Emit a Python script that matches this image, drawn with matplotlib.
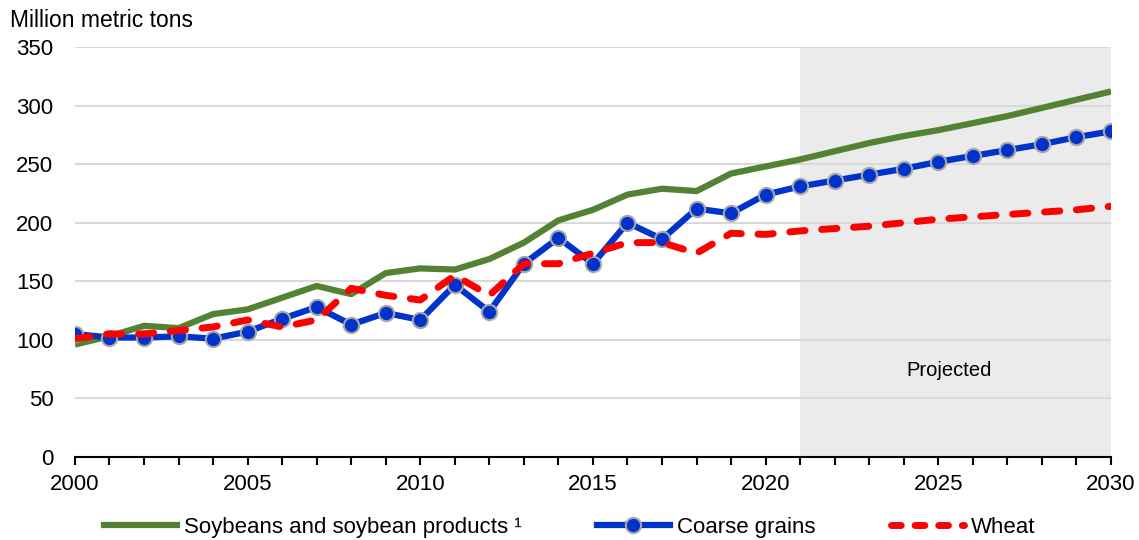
import matplotlib
matplotlib.use("Agg")
from matplotlib import pyplot as plt
from matplotlib.lines import Line2D

plt.rcParams['font.family'] = ['Liberation Sans', 'DejaVu Sans']

years = list(range(2000, 2031))

soybeans = [96, 103, 112, 110, 122, 126, 136, 146, 139, 157,
            161, 160, 169, 183, 202, 211, 224, 229, 227, 242,
            248, 254, 261, 268, 274, 279, 285, 291, 298, 305, 312]

coarse_grains = [105, 102, 102, 103, 101, 107, 118, 128, 113, 123,
                 117, 147, 124, 165, 187, 165, 200, 186, 212, 208,
                 224, 231, 236, 241, 246, 252, 257, 262, 267, 273, 278]

wheat = [101, 105, 105, 108, 111, 117, 111, 117, 144, 138,
         134, 155, 138, 165, 165, 174, 183, 183, 174, 191,
         190, 193, 195, 197, 200, 203, 205, 207, 209, 211, 214]

proj_start = 2021
proj_end = 2030

fig = plt.figure(figsize=(11.39, 5.4), dpi=100)
ax = fig.add_axes([0.0658, 0.1537, 0.9096, 0.7593])

ax.axvspan(proj_start, proj_end, color='#ebebeb', zorder=0, lw=0)
ax.text(2025.3, 74, 'Projected', fontsize=14.5, ha='center', va='center')

for yv in range(50, 351, 50):
    ax.axhline(yv, color='#d9d9d9', lw=1.5, zorder=1)

ax.plot(years, soybeans, color='#548235', lw=4.5, zorder=3,
        solid_capstyle='butt')
ax.plot(years, coarse_grains, color='#0033cc', lw=4.5, zorder=4,
        marker='o', markersize=11, markerfacecolor='#0033cc',
        markeredgecolor='#a6a6a6', markeredgewidth=1.5)
ax.plot(years, wheat, color='#ff0000', lw=5, zorder=5,
        dashes=(2.2, 2.4), dash_capstyle='round')

ax.set_xlim(2000, 2030)
ax.set_ylim(0, 350)
ax.set_yticks(range(0, 351, 50))
ax.set_xticks(range(2000, 2031, 5))
ax.set_xticks(years, minor=True)

for s in ['left', 'right', 'top']:
    ax.spines[s].set_visible(False)
ax.spines['bottom'].set_linewidth(1.5)
ax.spines['bottom'].set_zorder(6)

ax.tick_params(axis='y', length=0, labelsize=16, pad=15.5)
ax.tick_params(axis='x', which='both', direction='out', length=6,
               width=1.5, labelsize=16, pad=6)

fig.text(0.009, 0.962, 'Million metric tons', fontsize=16.5, va='center')

handles = [
    Line2D([], [], color='#548235', lw=4.5),
    Line2D([], [], color='#0033cc', lw=4.5, marker='o', markersize=11,
           markerfacecolor='#0033cc', markeredgecolor='#a6a6a6',
           markeredgewidth=1.5),
    Line2D([], [], color='#ff0000', lw=5, dashes=(1.4, 2.0),
           dash_capstyle='round'),
]
labels = ['Soybeans and soybean products \u00b9', 'Coarse grains', 'Wheat']
fig.legend(handles, labels, loc='center', bbox_to_anchor=(0.5, 0.024),
           ncol=3, frameon=False, fontsize=16, handlelength=3.3,
           handletextpad=0.3, columnspacing=3.4)

fig.savefig('out.png', dpi=100)
